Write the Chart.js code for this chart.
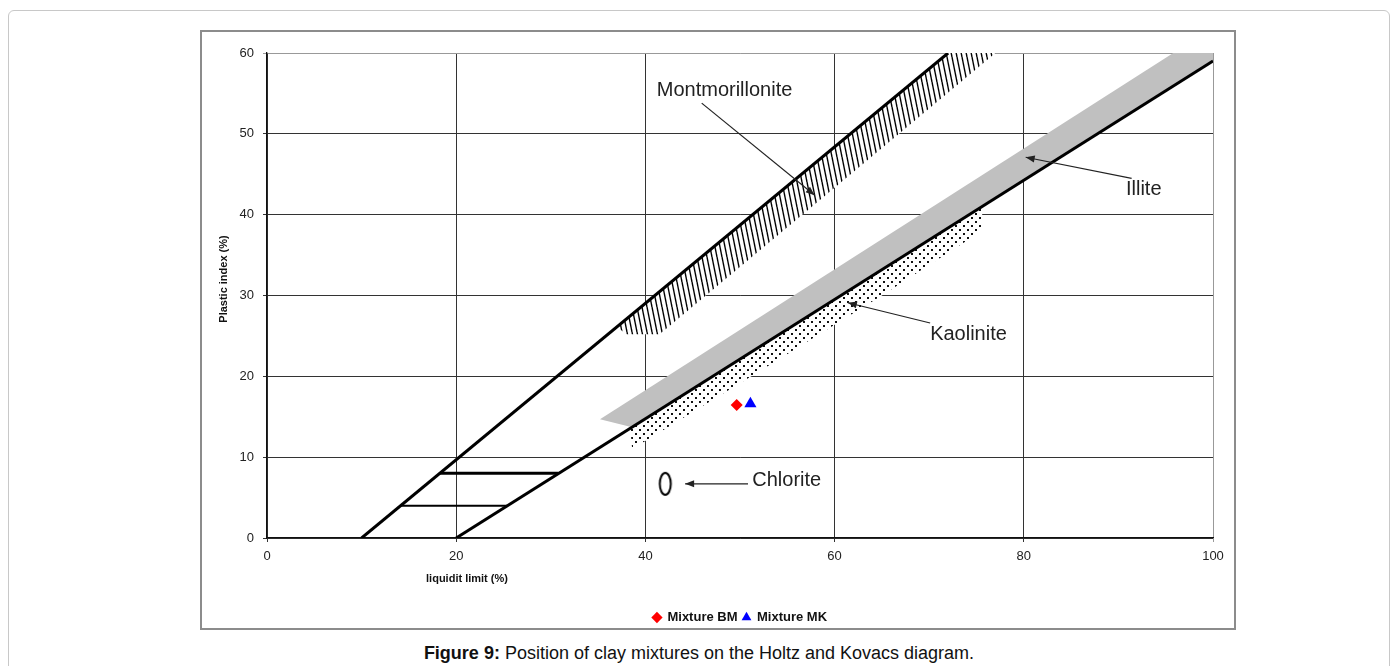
<!DOCTYPE html>
<html>
<head>
<meta charset="utf-8">
<script src="https://cdn.jsdelivr.net/npm/chart.js@4.4.1/dist/chart.umd.min.js"></script>
<style>
html, body { margin: 0; padding: 0; background: #fff; font-family: "Liberation Sans", Arial, sans-serif; }
#page { position: absolute; left: 8px; top: 10px; width: 1382px; height: 690px; border: 1px solid #c8c8c8; border-radius: 6px; box-sizing: border-box; }
#frame { position: absolute; left: 200px; top: 30px; width: 1036px; height: 600px; border: 2px solid #8c8c8c; box-sizing: border-box; }
#wrap { position: absolute; left: 0; top: 0; width: 1032px; height: 596px; }
#caption { position: absolute; left: 0; top: 642px; width: 1398px; text-align: center; font-size: 18px; line-height: 22px; color: #111; }
</style>
</head>
<body>
<div id="page"></div>
<div id="frame"><div id="wrap"><canvas id="holtzChart"></canvas></div></div>
<div id="caption"><b>Figure 9:</b> Position of clay mixtures on the Holtz and Kovacs diagram.</div>
<script>
// boundary lines of the diagram
const montLineX = [10, 72];
const montLineY = [0, 60];
const aLineX = [20, 100];
const aLineY = [0, 59];
const tie8X = [18.3, 30.8];
const tie8Y = [8, 8];
const tie4X = [14.1, 25.4];
const tie4Y = [4, 4];

// mineral zones
const montZoneX = [37, 72, 77, 41.5, 38];
const montZoneY = [26.1, 60, 60, 25.2, 25.2];
const illiteZoneX = [35.2, 38.6, 100, 100, 95.8];
const illiteZoneY = [14.7, 13.7, 59, 60, 60];
const kaolZoneX = [38.4, 75.6, 75.6, 65, 51.2, 38.6];
const kaolZoneY = [13.6, 41.0, 38.0, 30, 20, 11];
const chloriteX = [42.1];
const chloriteY = [6.7];

// clay mixtures
const mixBMX = [49.65];
const mixBMY = [16.45];
const mixMKX = [51.1];
const mixMKY = [16.6];

// annotations
const noteTexts = ["Montmorillonite", "Illite", "Kaolinite", "Chlorite"];
const noteX = [41.2, 90.8, 70.1, 51.3];
const noteY = [54.7, 42.4, 24.5, 6.4];
const arrowFromX = [45.95, 91.4, 70.1, 50.85];
const arrowFromY = [53.8, 44.5, 26.6, 6.7];
const arrowToX = [57.9, 80.2, 61.4, 44.2];
const arrowToY = [42.4, 47.1, 29.1, 6.7];

const xTitle = "liquidit limit (%)";
const yTitle = "Plastic index (%)";

const pts = (xs, ys) => xs.map((v, i) => ({ x: v, y: ys[i] }));

function hatchPattern() {
    const c = document.createElement("canvas");
    c.width = 5; c.height = 25;
    const g = c.getContext("2d");
    g.fillStyle = "#fff";
    g.fillRect(0, 0, 5, 25);
    g.strokeStyle = "#000";
    g.lineWidth = 1.4;
    [-5, 0, 5].forEach(o => {
        g.beginPath();
        g.moveTo(o, 0);
        g.lineTo(o + 5, 25);
        g.stroke();
    });
    return g.createPattern(c, "repeat");
}

function dotPattern() {
    const c = document.createElement("canvas");
    c.width = 8; c.height = 8;
    const g = c.getContext("2d");
    g.fillStyle = "#fff";
    g.fillRect(0, 0, 8, 8);
    g.fillStyle = "#111";
    g.fillRect(1, 1, 2, 2);
    g.fillRect(5, 5, 2, 2);
    return g.createPattern(c, "repeat");
}

function ellipseStyle() {
    const c = document.createElement("canvas");
    c.width = 16; c.height = 28;
    const g = c.getContext("2d");
    g.strokeStyle = "#000";
    g.lineWidth = 2;
    g.beginPath();
    g.ellipse(8, 14, 5.5, 11, 0, 0, Math.PI * 2);
    g.stroke();
    return c;
}

const lineSet = (xs, ys, width) => ({
    data: pts(xs, ys), showLine: true, borderColor: "#000", borderWidth: width,
    pointRadius: 0, fill: false, tension: 0, order: 2
});
const zoneSet = (xs, ys, bg) => ({
    data: pts(xs, ys), showLine: true, borderWidth: 0, borderColor: "rgba(0,0,0,0)",
    backgroundColor: bg, pointRadius: 0, fill: "shape", tension: 0, order: 3
});
const arrowSets = noteTexts.map((t, i) => ({
    data: pts([arrowFromX[i], arrowToX[i]], [arrowFromY[i], arrowToY[i]]),
    showLine: true, borderColor: "#222", borderWidth: 1.2, pointRadius: 0, arrow: true, order: 1
}));

const notesPlugin = {
    id: "notes",
    afterDatasetsDraw(chart) {
        const { ctx, chartArea, scales: { x, y } } = chart;
        ctx.save();
        chart.data.datasets.forEach((ds, i) => {
            if (!ds.arrow) return;
            const p = chart.getDatasetMeta(i).data;
            const a = p[0], b = p[p.length - 1];
            const ang = Math.atan2(b.y - a.y, b.x - a.x);
            const len = 9, half = 3.5;
            const cx = b.x - len * Math.cos(ang), cy = b.y - len * Math.sin(ang);
            ctx.beginPath();
            ctx.moveTo(b.x, b.y);
            ctx.lineTo(cx + half * Math.sin(ang), cy - half * Math.cos(ang));
            ctx.lineTo(cx - half * Math.sin(ang), cy + half * Math.cos(ang));
            ctx.closePath();
            ctx.fillStyle = ds.borderColor;
            ctx.fill();
        });
        ctx.fillStyle = "#222";
        ctx.font = '20px "Liberation Sans", Arial, sans-serif';
        ctx.textAlign = "left";
        ctx.textBaseline = "alphabetic";
        noteTexts.forEach((t, i) => ctx.fillText(t, x.getPixelForValue(noteX[i]), y.getPixelForValue(noteY[i])));

        ctx.fillStyle = "#111";
        ctx.font = 'bold 11px "Liberation Sans", Arial, sans-serif';
        ctx.textAlign = "center";
        ctx.textBaseline = "middle";
        ctx.fillText(xTitle, chartArea.left + 200, chartArea.bottom + 41);
        ctx.translate(chartArea.left - 43, chartArea.top + 226);
        ctx.rotate(-Math.PI / 2);
        ctx.fillText(yTitle, 0, 0);
        ctx.restore();
    }
};

const tickFont = { family: '"Liberation Sans", Arial, sans-serif', size: 13 };

new Chart(document.getElementById("holtzChart"), {
    type: "scatter",
    data: {
        datasets: [
            { label: "Mixture BM", data: pts(mixBMX, mixBMY), pointStyle: "rectRot", pointRadius: 6,
              backgroundColor: "#f00", borderColor: "#f00", borderWidth: 0, order: 0, inLegend: true },
            { label: "Mixture MK", data: pts(mixMKX, mixMKY), pointStyle: "triangle", pointRadius: 7,
              backgroundColor: "#00f", borderColor: "#00f", borderWidth: 0, order: 0, inLegend: true },
            { label: "Chlorite", data: pts(chloriteX, chloriteY), pointStyle: ellipseStyle(), order: 0 },
            ...arrowSets,
            lineSet(montLineX, montLineY, 3),
            lineSet(aLineX, aLineY, 3),
            lineSet(tie8X, tie8Y, 3),
            lineSet(tie4X, tie4Y, 2),
            zoneSet(montZoneX, montZoneY, hatchPattern()),
            zoneSet(illiteZoneX, illiteZoneY, "#c0c0c0"),
            zoneSet(kaolZoneX, kaolZoneY, dotPattern())
        ]
    },
    options: {
        responsive: true,
        maintainAspectRatio: false,
        animation: false,
        layout: { padding: { left: 25, right: 21, top: 21, bottom: -6 } },
        scales: {
            x: {
                type: "linear", min: 0, max: 100,
                ticks: { stepSize: 20, font: tickFont, color: "#222", padding: 7 },
                grid: { color: c => c.tick && c.tick.value === 100 ? "#999" : "#333", lineWidth: 1, tickLength: 4 },
                border: { color: "#111", width: 1.3 },
                afterFit(s) { s.height = 68; s.paddingLeft = 0; s.paddingRight = 0; }
            },
            y: {
                min: 0, max: 60,
                ticks: { stepSize: 10, font: tickFont, color: "#222", padding: 9 },
                grid: { color: c => c.tick && c.tick.value === 60 ? "#999" : "#333", lineWidth: 1, tickLength: 4 },
                border: { color: "#111", width: 1.3 },
                afterFit(s) { s.width = 40; s.paddingTop = 0; s.paddingBottom = 0; }
            }
        },
        plugins: {
            legend: {
                position: "bottom",
                fullSize: false,
                labels: {
                    filter: (item, data) => data.datasets[item.datasetIndex].inLegend,
                    usePointStyle: true, boxWidth: 8, boxHeight: 8, padding: 5,
                    color: "#111",
                    font: { family: '"Liberation Sans", Arial, sans-serif', size: 13, weight: "bold" }
                }
            },
            tooltip: { enabled: false }
        }
    },
    plugins: [notesPlugin]
});
</script>
</body>
</html>
